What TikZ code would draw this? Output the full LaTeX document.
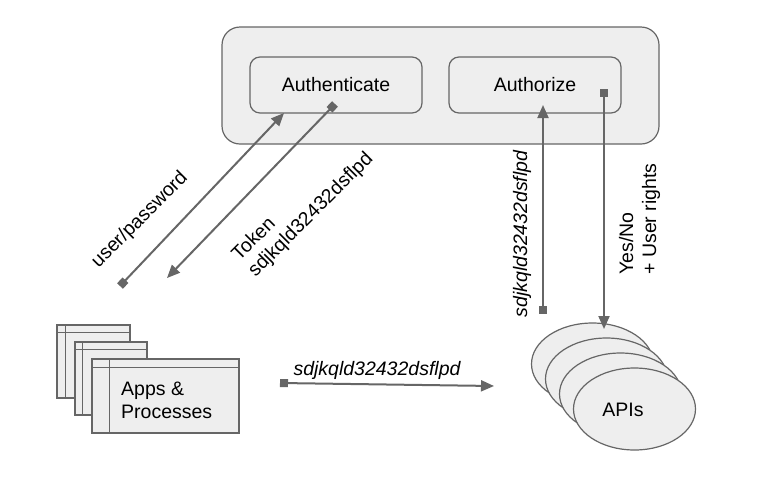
\documentclass[tikz,border=0pt]{standalone}
\usepackage{fontspec}
\setmainfont{Liberation Sans}
\usetikzlibrary{arrows.meta,shapes.geometric}
\definecolor{lc}{HTML}{666666}
\definecolor{fc}{HTML}{EEEEEE}
\begin{document}
\begin{tikzpicture}[x=1pt,y=-1pt,
  txt/.style={font=\fontsize{19.5}{23}\selectfont, text=black, inner sep=0pt},
  box/.style={draw=lc, fill=fc, line width=1.2pt, rounded corners=10pt, txt},
  win/.style={draw=lc, fill=fc, line width=1.2pt, inner sep=0pt},
  winline/.style={draw=lc, line width=1.2pt},
  api/.style={ellipse, draw=lc, fill=fc, line width=1.2pt, minimum width=122pt, minimum height=82pt, inner sep=0pt},
  conn/.style={draw=lc, line width=2pt, {Square[length=8pt,width=8pt]}-{Triangle[length=13pt,width=11pt]}}
]
\useasboundingbox (0,0) rectangle (768,488);
% top container
\node[box, rounded corners=18pt, minimum width=437pt, minimum height=117pt] (outer) at (440.5,85.5) {};
\node[box, minimum width=172pt, minimum height=56pt] (authn) at (336,85) {Authenticate};
\node[box, minimum width=172pt, minimum height=56pt] (authz) at (535,85) {Authorize};
% windows
\node[win, minimum width=73pt, minimum height=73pt] (w1) at (93.5,361.5) {};
\draw[winline] ([yshift=-8pt]w1.north west) -- ([yshift=-8pt]w1.north east);
\draw[winline] ([xshift=9pt]w1.north west) -- ([xshift=9pt]w1.south west);
\node[win, minimum width=72pt, minimum height=73pt] (w2) at (111,378.5) {};
\draw[winline] ([yshift=-8pt]w2.north west) -- ([yshift=-8pt]w2.north east);
\draw[winline] ([xshift=8pt]w2.north west) -- ([xshift=8pt]w2.south west);
\node[win, minimum width=147pt, minimum height=74pt] (w3) at (165.5,396) {};
\draw[winline] ([yshift=-9pt]w3.north west) -- ([yshift=-9pt]w3.north east);
\draw[winline] ([xshift=18pt]w3.north west) -- ([xshift=18pt]w3.south west);
\node[txt, align=left, anchor=west] (apps) at (121,400.5) {Apps \&\\Processes};
% APIs
\node[api] (e1) at (592.5,364) {};
\node[api] (e2) at (606.5,379) {};
\node[api] (e3) at (620.5,394) {};
\node[api] (e4) at (634.5,409) {};
\node[txt] (apis) at (623,410) {APIs};
% connector endpoints
\coordinate (upS) at (120,286);
\coordinate (upT) at (284,113);
\coordinate (tkS) at (335,104);
\coordinate (tkT) at (167,278);
\coordinate (azS) at (543,314);
\coordinate (azT) at (543,105);
\coordinate (dnS) at (604,89);
\coordinate (dnT) at (604,329);
\coordinate (hS) at (280,383);
\coordinate (hT) at (494,386);
\draw[conn] (upS) -- (upT);
\draw[conn] (tkS) -- (tkT);
\draw[conn] (azS) -- (azT);
\draw[conn] (dnS) -- (dnT);
\draw[conn] (hS) -- (hT);
% labels
\node[txt, rotate=45] (lup) at (140,220) {user/password};
\node[txt, rotate=45, align=left] (ltk) at (303,207) {Token\\sdjkqld32432dsflpd};
\node[txt, rotate=90, font=\fontsize{19.5}{23}\selectfont\itshape] (laz) at (522,234) {sdjkqld32432dsflpd};
\node[txt, rotate=90, align=left] (lyn) at (639.5,219) {Yes/No\\+ User rights};
\node[txt, font=\fontsize{19.5}{23}\selectfont\itshape] (lh) at (377,370) {sdjkqld32432dsflpd};
\end{tikzpicture}
\end{document}
